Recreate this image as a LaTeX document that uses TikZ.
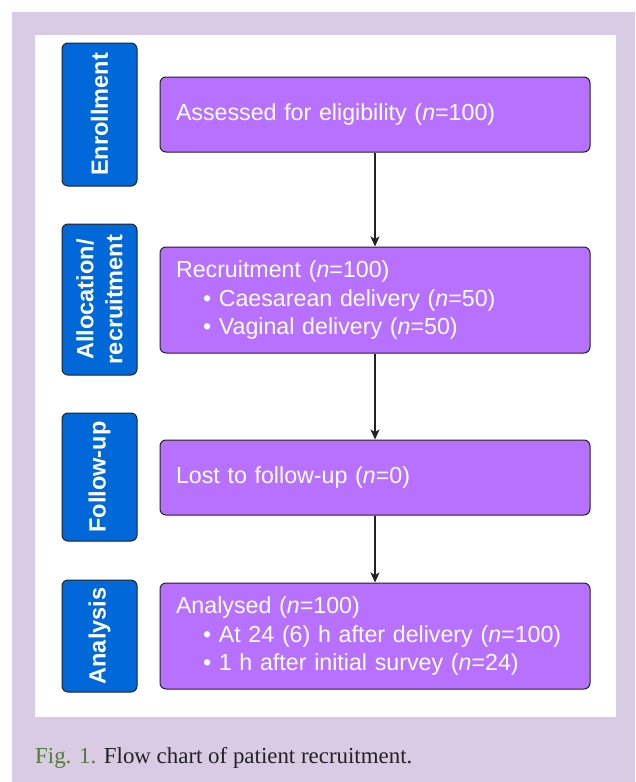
\documentclass[tikz,border=0pt]{standalone}
\usepackage{fontspec}
\setmainfont{Liberation Sans}
\newfontfamily\capfont{Liberation Serif}
\usetikzlibrary{arrows.meta}
\definecolor{bgLav}{HTML}{D8CBE3}
\definecolor{boxBlue}{HTML}{0068D9}
\definecolor{boxPurple}{HTML}{B870FF}
\definecolor{capGreen}{HTML}{4E7D3A}
\definecolor{capText}{HTML}{222222}
\definecolor{edgeCol}{HTML}{222222}
\tikzset{
  stagebox/.style={draw=edgeCol, line width=1pt, rounded corners=6pt, fill=boxBlue,
    text=white, minimum width=75pt, inner sep=0pt, rotate=90, align=center,
    font=\fontsize{23.5}{29}\selectfont\bfseries},
  infobox/.style={draw=edgeCol, line width=1pt, rounded corners=6pt, fill=boxPurple,
    text=white, minimum width=430pt, text width=398pt, inner xsep=16pt, inner ysep=0pt,
    align=left, font=\fontsize{23.2}{28.5}\selectfont},
  flowarrow/.style={draw=edgeCol, line width=1.1pt, -{Stealth[length=10pt,width=9pt,inset=2.5pt]}}
}
\newcommand{\bul}{\hspace*{27pt}\textbullet\ }
\begin{document}
\begin{tikzpicture}[x=1pt,y=-1pt]
\useasboundingbox (0,0) rectangle (635,782);
\fill[white] (0,0) rectangle (635,782);
\fill[bgLav] (12,12) rectangle (635,782);
\fill[white] (35,35) rectangle (616,717);

% stage labels (rotated: minimum height becomes horizontal width)
\node[stagebox, minimum height=75pt, minimum width=143pt] (s1) at (99.5,114.5) {Enrollment};
\node[stagebox, minimum height=75pt, minimum width=151pt] (s2) at (99.5,299.5) {Allocation/\\recruitment};
\node[stagebox, minimum height=75pt, minimum width=128pt] (s3) at (99.5,477) {Follow-up};
\node[stagebox, minimum height=75pt, minimum width=112pt] (s4) at (99.5,636) {Analysis};

% flow boxes
\node[infobox, minimum height=75pt] (b1) at (375,114.5) {Assessed for eligibility (\textit{n}=100)};
\node[infobox, minimum height=106pt] (b2) at (375,300) {Recruitment (\textit{n}=100)\\\bul Caesarean delivery (\textit{n}=50)\\\bul Vaginal delivery (\textit{n}=50)};
\node[infobox, minimum height=75pt] (b3) at (375,477.5) {Lost to follow-up (\textit{n}=0)};
\node[infobox, minimum height=106pt] (b4) at (375,636) {Analysed (\textit{n}=100)\\\bul At 24 (6) h after delivery (\textit{n}=100)\\\bul 1 h after initial survey (\textit{n}=24)};

\draw[flowarrow] (b1.south) -- (b2.north);
\draw[flowarrow] (b2.south) -- (b3.north);
\draw[flowarrow] (b3.south) -- (b4.north);

\node[anchor=base west, inner sep=0pt, font=\capfont\fontsize{22.9}{27}\selectfont, text=capText] (cap) at (35,763)
  {\textcolor{capGreen}{Fig. 1.} Flow chart of patient recruitment.};
\end{tikzpicture}
\end{document}
